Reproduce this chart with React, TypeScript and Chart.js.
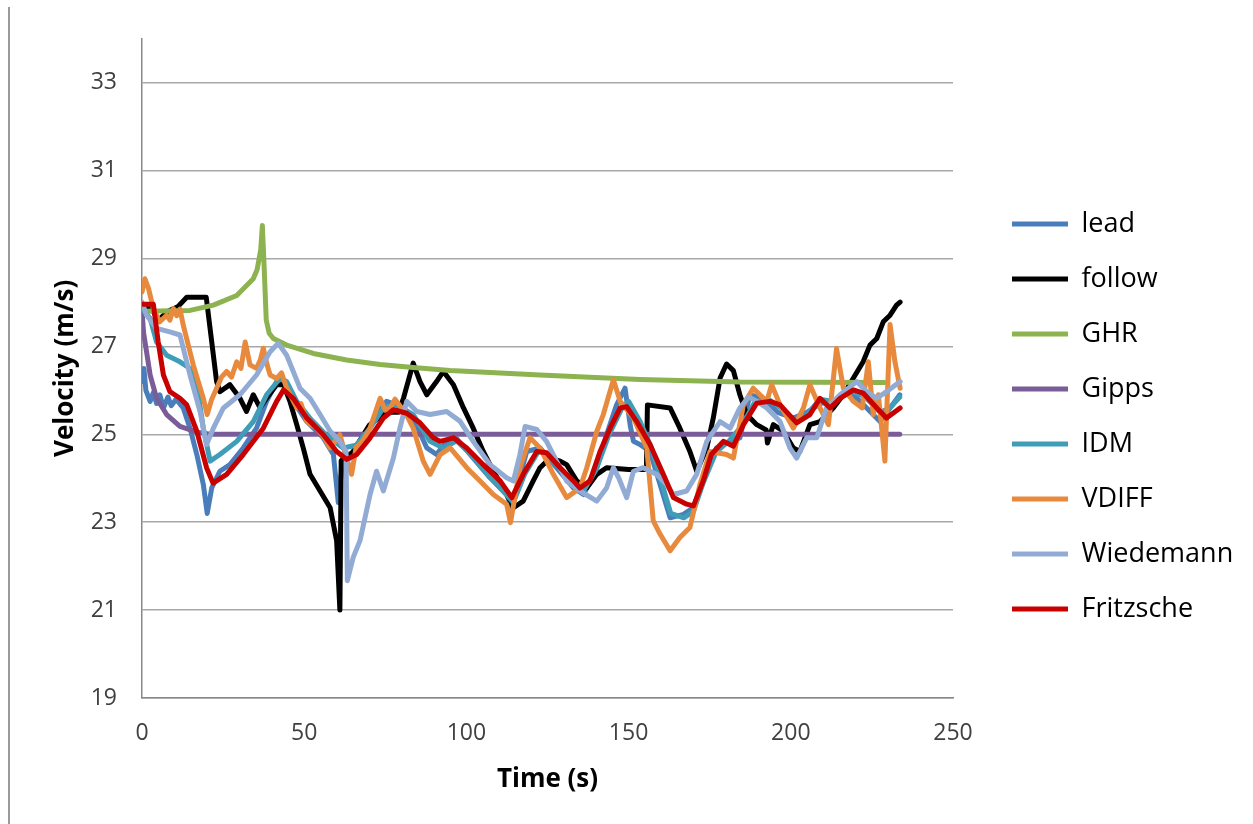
import React, { useEffect, useRef } from "react";
import { Chart, registerables } from "chart.js";

Chart.register(...registerables);

// ---- axis ticks ----
const xTicks = [0, 50, 100, 150, 200, 250];
const yTicks = [19, 21, 23, 25, 27, 29, 31, 33];

// ---- series (time in s, velocity in m/s) ----
const leadT = [0, 0.6, 1.2, 2.5, 3.5, 4.5, 5.5, 6.6, 8, 9, 10.5, 12.7, 14.8, 16.9, 18.9, 20.1, 21.5, 24, 27.1, 31.2, 35.3, 38.4, 41.5, 43.6, 46.6, 50.8, 55.9, 59, 60.5, 62, 64.1, 68.2, 72.3, 75.4, 78.5, 83.6, 87.8, 90.8, 93.9, 97, 102.1, 107.3, 112.4, 114, 116, 118.6, 122.7, 127.8, 133, 136.1, 140.2, 143.2, 146.3, 148.9, 150.5, 151.5, 153.5, 156.6, 159.7, 162.8, 166.9, 170, 173, 177.1, 181.3, 184.3, 187.4, 192, 196, 200.8, 205, 209, 213.1, 218.2, 223.4, 227.5, 230.6, 233.6];
const leadV = [26.2, 26.5, 26.0, 25.75, 25.95, 25.7, 25.9, 25.6, 25.85, 25.65, 25.8, 25.6, 25.14, 24.54, 23.86, 23.2, 23.78, 24.16, 24.31, 24.69, 25.14, 25.75, 26.2, 26.13, 25.75, 25.29, 24.92, 24.54, 23.45, 24.54, 24.46, 24.92, 25.45, 25.75, 25.67, 25.37, 24.69, 24.54, 24.84, 24.9, 24.46, 24.01, 23.63, 23.33, 23.9, 24.61, 24.69, 24.24, 23.78, 23.63, 24.24, 24.99, 25.67, 26.05, 25.2, 24.84, 24.77, 24.61, 23.86, 23.1, 23.18, 23.33, 23.94, 24.69, 24.84, 24.92, 25.9, 25.8, 25.5, 25.37, 25.5, 25.7, 25.75, 25.98, 25.6, 25.29, 25.6, 25.9];

const followT = [0, 3, 5, 8, 11, 13.8, 19.8, 21.5, 23, 24, 27.1, 30.2, 32.2, 34.3, 36.4, 38.4, 41.5, 43.6, 45.6, 47.7, 49.7, 51.8, 54.9, 58, 60, 61, 61.4, 65, 70, 75, 79, 80.6, 83.6, 85.7, 87.8, 90.8, 92.9, 96, 99.1, 102.1, 105.2, 108.3, 111.4, 114.5, 117.5, 120.6, 122.7, 125.8, 128.9, 130.9, 134, 137.1, 140.2, 143.2, 150, 155.5, 155.8, 162.8, 165.8, 168.9, 171, 174.1, 176.1, 178.2, 180.2, 182.3, 184.3, 186.4, 189.5, 192.4, 192.8, 194.6, 197.7, 200.8, 202.8, 205.9, 209, 213.1, 216.2, 219.3, 222.3, 224.4, 226.5, 228.5, 230.6, 232.6, 233.7];
const followV = [27.9, 27.85, 27.6, 27.8, 27.9, 28.12, 28.12, 27.1, 26.2, 25.97, 26.13, 25.82, 25.52, 25.9, 25.6, 25.82, 26.13, 26.13, 25.75, 25.22, 24.69, 24.09, 23.71, 23.33, 22.58, 21.0, 24.4, 24.6, 25.2, 25.5, 25.5, 25.82, 26.62, 26.2, 25.9, 26.2, 26.43, 26.13, 25.6, 25.14, 24.61, 24.16, 23.78, 23.33, 23.48, 23.94, 24.24, 24.46, 24.39, 24.31, 23.94, 23.78, 24.09, 24.24, 24.2, 24.2, 25.67, 25.6, 25.14, 24.61, 24.16, 24.69, 25.37, 26.28, 26.6, 26.45, 25.9, 25.45, 25.22, 25.1, 24.8, 25.22, 25.07, 24.69, 24.61, 25.22, 25.29, 25.6, 25.9, 26.28, 26.65, 27.03, 27.18, 27.56, 27.71, 27.94, 28.01];

const ghrT = [0, 14.8, 22, 29.2, 34.3, 35.5, 36.6, 37.1, 37.6, 38.3, 39.2, 40.5, 44.6, 52.8, 63.1, 73.4, 83.6, 95, 122.7, 153.5, 184.3, 229];
const ghrV = [27.8, 27.82, 27.94, 28.16, 28.54, 28.75, 29.2, 29.75, 28.9, 27.6, 27.3, 27.18, 27.03, 26.84, 26.69, 26.59, 26.52, 26.45, 26.35, 26.25, 26.19, 26.18];

const gippsT = [0, 0.5, 1.4, 2.5, 4.5, 7.6, 11.7, 16.9, 21, 233.6];
const gippsV = [27.8, 27.3, 26.88, 26.35, 25.82, 25.45, 25.18, 25.05, 25.0, 25.0];

const idmT = [0, 2.5, 4.5, 7.6, 11.7, 14.8, 16.9, 18.9, 21, 24, 29.2, 34.3, 38.4, 42.5, 44.6, 47.7, 52, 57, 62, 66, 70.3, 74.4, 78.5, 83.6, 88.8, 92.9, 97, 102, 107, 112, 114.5, 118, 122.5, 128, 133, 136, 140, 144, 148, 150, 153.5, 157, 160, 163, 167, 170, 173, 177, 181, 185, 189, 193, 197, 201, 205, 209, 213, 218, 223, 227.5, 230.5, 233.6];
const idmV = [27.86, 27.64, 27.1, 26.8, 26.65, 26.5, 26.13, 25.14, 24.39, 24.54, 24.84, 25.29, 25.9, 26.27, 26.2, 25.75, 25.35, 24.97, 24.69, 24.75, 25.14, 25.6, 25.67, 25.45, 24.84, 24.69, 24.85, 24.5, 24.05, 23.65, 23.45, 24.1, 24.65, 24.3, 23.85, 23.7, 24.2, 25.0, 25.6, 25.75, 25.3, 24.7, 23.95, 23.2, 23.1, 23.25, 23.9, 24.6, 24.85, 25.2, 25.75, 25.8, 25.6, 25.3, 25.45, 25.8, 25.75, 26.0, 25.85, 25.5, 25.6, 25.85];

const vdiffT = [0, 0.9, 2, 3.5, 5.5, 7.6, 8.6, 9.7, 10.7, 11.7, 12.7, 15.8, 18.9, 20.1, 21.5, 23, 24.5, 26.1, 27.6, 29.2, 30.5, 31.8, 33.3, 35.3, 36.5, 37.4, 38.5, 39.5, 41.5, 43, 44.6, 47.7, 49, 50.8, 53.8, 56, 58, 61, 62.5, 64.6, 66, 68, 70.3, 73.4, 75, 76.5, 78, 79.5, 81.5, 83.6, 86.7, 88.8, 91.9, 95, 100.1, 104.2, 108.3, 112.4, 113.6, 116.5, 119.6, 122.7, 126.8, 130.9, 135, 137.1, 140.2, 142.2, 145.3, 147.4, 151.5, 155.6, 157.6, 159.7, 162.8, 165.8, 168.9, 172, 175.1, 180.2, 182.3, 185.4, 188.4, 192.6, 194.1, 196.7, 200.8, 203.9, 205.9, 209, 211.6, 214.1, 216.2, 219.3, 222, 223.9, 225.4, 227, 229, 230.6, 232.1, 233.7];
const vdiffV = [28.24, 28.54, 28.32, 27.86, 27.56, 27.71, 27.6, 27.86, 27.7, 27.85, 27.49, 26.58, 25.82, 25.45, 25.8, 26.05, 26.3, 26.43, 26.3, 26.65, 26.5, 27.1, 26.58, 26.5, 26.7, 26.96, 26.6, 26.35, 26.27, 26.4, 26.05, 25.6, 25.7, 25.29, 25.14, 24.95, 24.69, 24.99, 24.6, 24.09, 24.7, 24.85, 25.14, 25.82, 25.55, 25.6, 25.8, 25.65, 25.45, 25.14, 24.39, 24.09, 24.54, 24.69, 24.24, 23.94, 23.63, 23.41, 22.99, 24.24, 24.92, 24.69, 24.09, 23.56, 23.78, 24.24, 25.07, 25.45, 26.24, 25.75, 25.37, 24.69, 23.03, 22.73, 22.35, 22.65, 22.88, 23.86, 24.61, 24.54, 24.46, 25.67, 26.05, 25.75, 26.13, 25.67, 25.14, 25.6, 26.13, 25.6, 25.22, 26.95, 26.05, 25.75, 25.6, 26.65, 25.45, 25.9, 24.39, 27.5, 26.65, 26.05];

const wiedT = [0, 1.4, 4.5, 8.6, 11.7, 14.8, 17.9, 19.9, 22, 25.1, 30.2, 35.3, 39.5, 42, 44.6, 48.7, 51.8, 54.9, 58, 61, 62.9, 63.3, 65.1, 67.2, 70.3, 72.3, 74.4, 77.5, 79.5, 81.6, 84.7, 88.8, 93.9, 98, 102.1, 107.3, 112.4, 114.5, 116.5, 118.1, 121.7, 124.7, 127.8, 130.9, 135, 140.2, 143.2, 145.3, 147, 149.4, 151.5, 154.5, 158.6, 161.7, 163.8, 167.9, 171, 174.1, 178.2, 181.3, 184.3, 187, 189.5, 192.6, 196.7, 199.7, 201.8, 204.9, 208, 211, 215.2, 220.3, 223.4, 226.5, 229.5, 233.7];
const wiedV = [28.01, 27.71, 27.41, 27.33, 27.26, 26.35, 25.52, 24.77, 25.14, 25.6, 25.9, 26.35, 26.88, 27.07, 26.8, 26.05, 25.82, 25.45, 25.07, 24.84, 24.61, 21.67, 22.2, 22.58, 23.63, 24.16, 23.71, 24.46, 25.14, 25.75, 25.52, 25.45, 25.52, 25.3, 24.84, 24.31, 24.01, 23.94, 24.54, 25.18, 25.11, 24.84, 24.39, 23.94, 23.71, 23.48, 23.78, 24.24, 24.0, 23.56, 24.16, 24.24, 24.09, 23.86, 23.63, 23.71, 24.09, 24.84, 25.29, 25.14, 25.6, 25.85, 25.75, 25.6, 25.29, 24.69, 24.46, 24.92, 24.92, 25.6, 25.9, 26.2, 25.97, 25.82, 25.97, 26.2];

const fritzT = [0, 3.5, 5, 6.6, 8.6, 11.7, 13.8, 16.9, 19.9, 21.9, 26.1, 31.2, 37.4, 41.5, 43.6, 46.6, 50.8, 55.9, 60, 63.1, 66.2, 70.3, 74.4, 77.5, 81.6, 85.7, 89.8, 91.9, 96, 100.1, 105.2, 110.4, 114, 117.5, 121.7, 124.7, 128.9, 133, 135, 138.1, 141.2, 144.3, 147.4, 149.4, 152.5, 156.6, 160.7, 163.8, 167.9, 170, 173, 175.5, 179.2, 182.3, 185.4, 189.5, 193.6, 196.7, 201.8, 205.9, 209, 212.1, 215.2, 219.3, 222.3, 226.5, 229.5, 233.7];
const fritzV = [27.96, 27.96, 27.1, 26.35, 25.97, 25.82, 25.67, 25.07, 24.24, 23.89, 24.09, 24.54, 25.14, 25.75, 26.01, 25.82, 25.37, 24.99, 24.61, 24.43, 24.54, 24.92, 25.37, 25.56, 25.48, 25.26, 24.92, 24.84, 24.92, 24.69, 24.31, 23.94, 23.56, 24.09, 24.61, 24.58, 24.24, 23.94, 23.78, 23.94, 24.61, 25.14, 25.6, 25.63, 25.29, 24.77, 24.09, 23.56, 23.41, 23.37, 23.94, 24.54, 24.84, 24.73, 25.22, 25.71, 25.75, 25.67, 25.26, 25.45, 25.82, 25.6, 25.82, 26.01, 25.94, 25.6, 25.37, 25.6];

const seriesNames = ["lead", "follow", "GHR", "Gipps", "IDM", "VDIFF", "Wiedemann", "Fritzsche"];
const seriesColors = ["#4A7EBB", "#000000", "#8DB350", "#7A5C98", "#3F9DB8", "#E88A3E", "#91ABD5", "#C80000"];

// widen the legend's clip region to the right edge of the canvas (keeps its left edge)
const legendClipPlugin = {
  id: "legendClip",
  afterLayout(chart: any) {
    const l = chart.legend;
    if (l) {
      l.right = chart.width;
      l.width = l.right - l.left;
    }
  },
};

export default function App() {
  const ref = useRef<HTMLCanvasElement>(null);

  useEffect(() => {
    if (!ref.current) return;
    const times = [leadT, followT, ghrT, gippsT, idmT, vdiffT, wiedT, fritzT];
    const values = [leadV, followV, ghrV, gippsV, idmV, vdiffV, wiedV, fritzV];
    const datasets = seriesNames
      .map((name, i) => ({
        label: name,
        data: times[i].map((t, j) => ({ x: t, y: values[i][j] })),
        borderColor: seriesColors[i],
        backgroundColor: seriesColors[i],
        borderWidth: 5,
        pointRadius: 0,
        tension: 0,
        fill: false,
        borderCapStyle: "round" as const,
        borderJoinStyle: "round" as const,
      }))
      .reverse();

    const tickFont = { family: "Open Sans", size: 23 };
    const titleFont = { family: "Open Sans", size: 26, weight: "bold" as const };

    const chart = new Chart(ref.current, {
      type: "line",
      data: { datasets },
      plugins: [legendClipPlugin],
      options: {
        animation: false,
        responsive: false,
        layout: { padding: { left: 0, right: 169, top: 36, bottom: 27 } },
        plugins: {
          legend: {
            position: "right",
            reverse: true,
            maxWidth: 100,
            labels: {
              usePointStyle: true,
              pointStyle: "line",
              pointStyleWidth: 56,
              padding: 28,
              color: "#000",
              font: { family: "Open Sans", size: 27 },
            },
          },
          tooltip: { enabled: false },
        },
        scales: {
          x: {
            type: "linear",
            min: 0,
            max: 250,
            afterBuildTicks: (s: any) => {
              s.ticks = xTicks.map((v) => ({ value: v }));
            },
            ticks: { padding: 22, color: "#404040", font: tickFont, maxRotation: 0 },
            grid: { display: false, drawTicks: false },
            border: { display: true, color: "#888888", width: 1.5 },
            title: { display: true, text: "Time (s)", color: "#000", font: titleFont, padding: { top: 0, bottom: 2 } },
            afterFit: (s: any) => {
              s.height = 99;
            },
          },
          y: {
            type: "linear",
            min: 19,
            max: 34,
            afterBuildTicks: (s: any) => {
              s.ticks = yTicks.map((v) => ({ value: v }));
            },
            ticks: { padding: 25, color: "#404040", font: tickFont },
            grid: { color: "#a8a8a8", lineWidth: 1.5, drawTicks: false },
            border: { display: true, color: "#888888", width: 1.5 },
            title: { display: true, text: "Velocity (m/s)", color: "#000", font: titleFont, padding: { top: 50, bottom: 0 } },
            afterFit: (s: any) => {
              s.width = 142;
            },
          },
          gap: {
            type: "linear",
            position: "right",
            display: true,
            grid: { display: false, drawTicks: false },
            border: { display: false },
            ticks: { display: false },
            afterFit: (s: any) => {
              s.width = 31;
            },
          },
        },
      },
    });
    return () => chart.destroy();
  }, []);

  return (
    <div style={{ position: "absolute", left: 0, top: 0, width: 1253, height: 824, background: "#fff", overflow: "hidden" }}>
      <div style={{ position: "absolute", left: 8, top: 7, width: 2, height: 817, background: "#9a9a9a" }} />
      <canvas ref={ref} width={1253} height={824} style={{ position: "absolute", left: 0, top: 0 }} />
    </div>
  );
}
